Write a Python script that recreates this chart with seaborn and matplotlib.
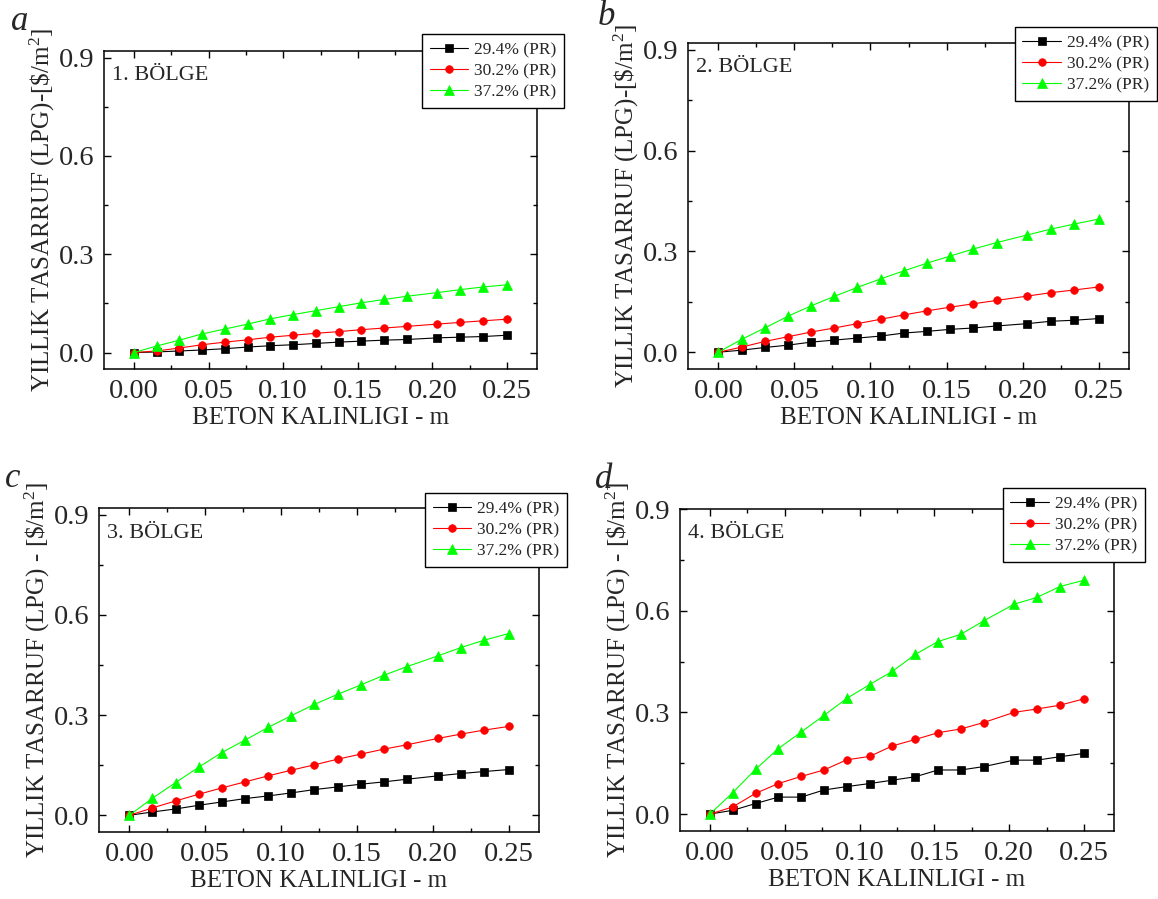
import matplotlib
matplotlib.use('Agg')
import matplotlib.pyplot as plt
import seaborn as sns
from matplotlib.ticker import MultipleLocator, FormatStrFormatter

# beton kalinligi (m)
thickness = [0.0, 0.0152, 0.0305, 0.0457, 0.0610, 0.0762, 0.0914, 0.1067, 0.1219,
             0.1372, 0.1524, 0.1676, 0.1829, 0.2032, 0.2184, 0.2337, 0.25]

series_labels = ['29.4% (PR)', '30.2% (PR)', '37.2% (PR)']
series_colors = ['#000000', '#ff0000', '#00ff00']
series_markers = ['s', 'o', '^']

# yillik tasarruf, $/m2  (1. - 4. bolge)
b1_294 = [0, .002, .005, .008, .012, .017, .021, .024, .028, .032, .035, .038, .040, .045, .047, .049, .053]
b1_302 = [0, .005, .014, .024, .032, .039, .047, .053, .059, .064, .070, .075, .080, .087, .092, .097, .102]
b1_372 = [0, .020, .038, .057, .072, .087, .103, .116, .128, .140, .152, .162, .172, .183, .192, .200, .207]

b2_294 = [0, .006, .014, .021, .030, .036, .042, .048, .057, .062, .068, .072, .078, .085, .092, .095, .100]
b2_302 = [0, .015, .032, .046, .060, .072, .085, .098, .111, .123, .134, .144, .154, .167, .177, .185, .194]
b2_372 = [0, .038, .072, .107, .138, .166, .193, .218, .242, .265, .286, .307, .326, .349, .366, .381, .396]

b3_294 = [0, .010, .019, .030, .040, .050, .058, .067, .077, .085, .093, .100, .108, .118, .125, .131, .137]
b3_302 = [0, .022, .043, .063, .082, .100, .118, .135, .151, .168, .183, .198, .211, .230, .243, .255, .266]
b3_372 = [0, .051, .098, .144, .188, .225, .263, .298, .332, .362, .390, .419, .445, .477, .502, .524, .544]

b4_294 = [0, .011, .031, .050, .050, .071, .081, .090, .100, .110, .130, .130, .140, .159, .159, .169, .179]
b4_302 = [0, .021, .061, .090, .111, .130, .160, .170, .201, .220, .240, .251, .270, .300, .310, .321, .340]
b4_372 = [0, .063, .132, .193, .242, .291, .341, .382, .421, .471, .509, .530, .570, .619, .639, .671, .690]

region_names = ['1. BÖLGE', '2. BÖLGE', '3. BÖLGE', '4. BÖLGE']
panel_letters = ['a', 'b', 'c', 'd']
ylabels = [r'YILLIK TASARRUF (LPG)-[\$/m$^{2}$]',
           r'YILLIK TASARRUF (LPG)-[\$/m$^{2}$]',
           r'YILLIK TASARRUF (LPG) - [\$/m$^{2}$]',
           r'YILLIK TASARRUF (LPG) - [\$/m$^{2}$]']
xlabel = 'BETON KALINLIGI - m'

sns.set_theme(style='ticks')
plt.rcParams['font.family'] = ['Liberation Serif', 'DejaVu Serif']
plt.rcParams['mathtext.fontset'] = 'custom'
plt.rcParams['mathtext.rm'] = 'Liberation Serif'
plt.rcParams['mathtext.it'] = 'Liberation Serif:italic'
plt.rcParams['mathtext.bf'] = 'Liberation Serif:bold'

W, H = 1158, 899
fig = plt.figure(figsize=(W / 100, H / 100), dpi=100)

# axes boxes in pixels: left, top, right, bottom
boxes = [(104, 51, 537, 369), (688, 43, 1129, 369),
         (99, 508, 539, 832), (680, 509, 1114, 831)]
ylims = [(-0.05, 0.92), (-0.05, 0.92), (-0.05, 0.92), (-0.05, 0.90)]
leg_anchor = [(1.062, 1.053), (1.063, 1.049), (1.064, 1.046), (1.071, 1.065)]
letter_pos = [(11, 30), (598, 25), (5, 487), (595, 488)]

data = [(b1_294, b1_302, b1_372), (b2_294, b2_302, b2_372),
        (b3_294, b3_302, b3_372), (b4_294, b4_302, b4_372)]

for i in range(4):
    l, t, r, b = boxes[i]
    ax = fig.add_axes([l / W, 1 - b / H, (r - l) / W, (b - t) / H])

    for vals, lbl, c, m in zip(data[i], series_labels, series_colors, series_markers):
        sns.lineplot(x=thickness, y=vals, ax=ax, color=c, marker=m,
                     markersize=7 if m == '^' else 5.5,
                     markeredgecolor=c, markeredgewidth=0.5,
                     linewidth=0.8, label=lbl, sort=False)

    ax.set_xlim(-0.02, 0.27)
    ax.set_ylim(*ylims[i])
    ax.xaxis.set_major_locator(MultipleLocator(0.05))
    ax.xaxis.set_minor_locator(MultipleLocator(0.025))
    ax.yaxis.set_major_locator(MultipleLocator(0.3))
    ax.yaxis.set_minor_locator(MultipleLocator(0.15))
    ax.xaxis.set_major_formatter(FormatStrFormatter('%.2f'))
    ax.yaxis.set_major_formatter(FormatStrFormatter('%.1f'))
    ax.tick_params(which='both', direction='in', top=True, right=True,
                   color='black', width=1)
    ax.tick_params(which='major', length=5, labelsize=20.5, pad=7)
    ax.tick_params(which='minor', length=3)
    for sp in ax.spines.values():
        sp.set_linewidth(1.1)
        sp.set_color('black')

    ax.set_xlabel(xlabel, fontsize=18)
    ax.set_ylabel(ylabels[i], fontsize=18)
    ax.xaxis.set_label_coords(0.5, -49 / (b - t))
    ax.xaxis.label.set_va('center')
    ax.yaxis.set_label_coords(-62 / (r - l), 0.5)
    ax.yaxis.label.set_va('center')

    ax.annotate(region_names[i], xy=(0, 1), xycoords='axes fraction',
                xytext=(8, -25), textcoords='offset pixels',
                ha='left', va='center', fontsize=16)

    leg = ax.legend(loc='upper right', bbox_to_anchor=leg_anchor[i],
                    borderaxespad=0, fontsize=12.5, frameon=True, fancybox=False,
                    framealpha=1, edgecolor='black', handlelength=2.2,
                    handletextpad=0.35, labelspacing=0.28, borderpad=0.45)
    leg.get_frame().set_linewidth(1.0)
    leg.set_zorder(10)

    fig.text(letter_pos[i][0] / W, 1 - letter_pos[i][1] / H, panel_letters[i],
             fontsize=25, fontstyle='italic', ha='left', va='baseline')

fig.savefig('out.png', dpi=100)
